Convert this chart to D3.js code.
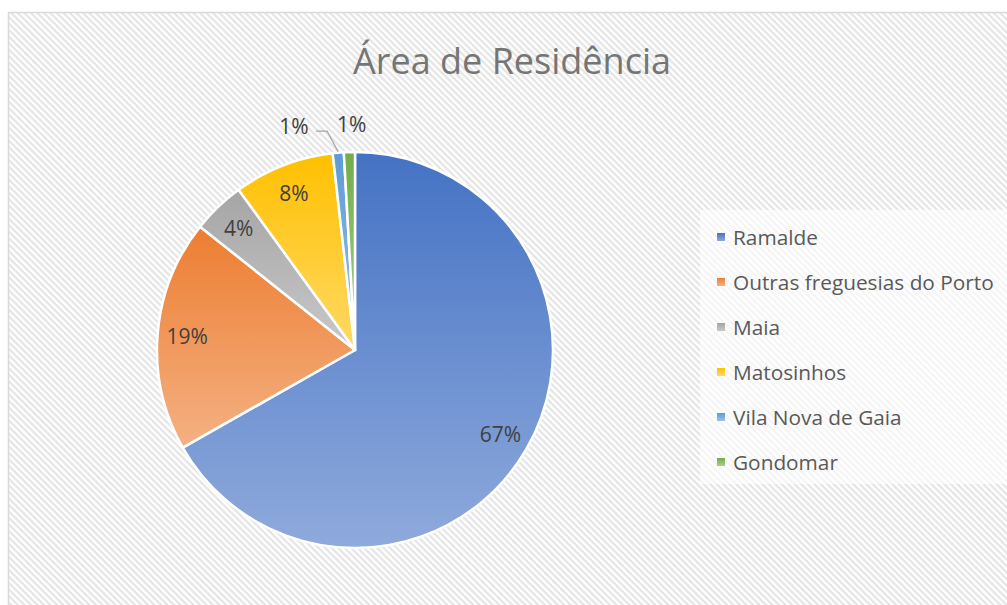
<!DOCTYPE html>
<html>
<head>
<meta charset="utf-8">
<script src="https://cdn.jsdelivr.net/npm/d3@7"></script>
<style>
  body { margin: 0; background: #fff; }
  svg { display: block; font-family: "Open Sans", Lato, sans-serif; }
</style>
</head>
<body>
<svg id="chart"></svg>
<script>
// data
const categories = ["Ramalde", "Outras freguesias do Porto", "Maia", "Matosinhos", "Vila Nova de Gaia", "Gondomar"];
const values = [66.8, 18.9, 4.3, 8.2, 0.9, 0.9];
const topColors = ["#4472c4", "#ed7d31", "#a5a5a5", "#ffc000", "#5b9bd5", "#70ad47"];
const bottomColors = ["#8faadc", "#f4b183", "#c9c9c9", "#ffd966", "#9dc3e6", "#a9d18e"];

const W = 1007, H = 605;
const svg = d3.select("#chart").attr("width", W).attr("height", H);
const defs = svg.append("defs");

// diagonal hatch background like the Excel chart area
const pat = defs.append("pattern")
  .attr("id", "hatch").attr("patternUnits", "userSpaceOnUse")
  .attr("width", 4.6).attr("height", 4.6)
  .attr("patternTransform", "rotate(45)");
pat.append("rect").attr("width", 4.6).attr("height", 4.6).attr("fill", "#fff");
pat.append("rect").attr("width", 4.6).attr("height", 2.3).attr("fill", "#e5e5e5");

svg.append("rect")
  .attr("x", 8.5).attr("y", 12.5).attr("width", W).attr("height", H)
  .attr("fill", "url(#hatch)").attr("stroke", "#d9d9d9").attr("stroke-width", 1.5);

// title
svg.append("text")
  .attr("x", 512).attr("y", 74).attr("text-anchor", "middle")
  .attr("font-size", 36).attr("fill", "#757575")
  .text("Área de Residência");

// gradients, one per slice
categories.forEach((c, i) => {
  const g = defs.append("linearGradient").attr("id", "grad" + i)
    .attr("x1", 0).attr("y1", 0).attr("x2", 0).attr("y2", 1);
  g.append("stop").attr("offset", "0%").attr("stop-color", topColors[i]);
  g.append("stop").attr("offset", "100%").attr("stop-color", bottomColors[i]);
});

const cx = 355, cy = 350, R = 198;
const total = d3.sum(values);
const pct = d3.format(".0%");

const pie = d3.pie().sort(null).value(d => d);
const arcs = pie(values);
const arc = d3.arc().innerRadius(0).outerRadius(R);
const labelArc = d3.arc().innerRadius(R * 0.85).outerRadius(R * 0.85);
const outerArc = d3.arc().innerRadius(R * 1.14).outerRadius(R * 1.14);

const pg = svg.append("g").attr("transform", `translate(${cx},${cy})`);

pg.selectAll("path.slice")
  .data(arcs).enter().append("path")
  .attr("class", "slice")
  .attr("d", arc)
  .attr("fill", (d, i) => `url(#grad${i})`)
  .attr("stroke", "#fff").attr("stroke-width", 2.5)
  .attr("stroke-linejoin", "round");

// labels: inside for the big slices, outside for the tiny ones
const small = d => d.value / total < 0.02;
const labelPos = (d, i) => {
  if (!small(d)) return labelArc.centroid(d);
  const p = outerArc.centroid(d);
  // nudge the first tiny one left so the two do not collide
  return i === 4 ? [p[0] - 42, p[1] + 1] : [p[0] + 3, p[1]];
};

// leader line for the Vila Nova de Gaia slice
arcs.forEach((d, i) => {
  if (i !== 4) return;
  const lp = labelPos(d, i);
  const a = (d.startAngle + d.endAngle) / 2;
  const edge = [Math.sin(a) * (R + 1), -Math.cos(a) * (R + 1)];
  pg.append("polyline")
    .attr("points", [[lp[0] + 22, lp[1] + 5], [edge[0] - 11, lp[1] + 5], edge].map(p => p.join(",")).join(" "))
    .attr("fill", "none").attr("stroke", "#a6a6a6").attr("stroke-width", 1.3);
});

pg.selectAll("text.lbl")
  .data(arcs).enter().append("text")
  .attr("class", "lbl")
  .attr("transform", (d, i) => `translate(${labelPos(d, i)})`)
  .attr("text-anchor", "middle").attr("dy", "0.36em")
  .attr("font-size", 21).attr("fill", "#404040")
  .text(d => pct(d.value / total));

// legend
svg.append("rect")
  .attr("x", 700).attr("y", 210).attr("width", 320).attr("height", 274)
  .attr("fill", "#fff").attr("fill-opacity", 0.6);

const ly = d3.scalePoint().domain(categories).range([237, 462]);
const lg = svg.selectAll("g.leg").data(categories).enter().append("g")
  .attr("class", "leg")
  .attr("transform", d => `translate(717,${ly(d)})`);
lg.append("rect")
  .attr("x", 0).attr("y", -4).attr("width", 8).attr("height", 8)
  .attr("fill", (d, i) => `url(#grad${i})`);
lg.append("text")
  .attr("x", 16).attr("dy", "0.36em")
  .attr("font-size", 20.8).attr("fill", "#595959")
  .text(d => d);
</script>
</body>
</html>
